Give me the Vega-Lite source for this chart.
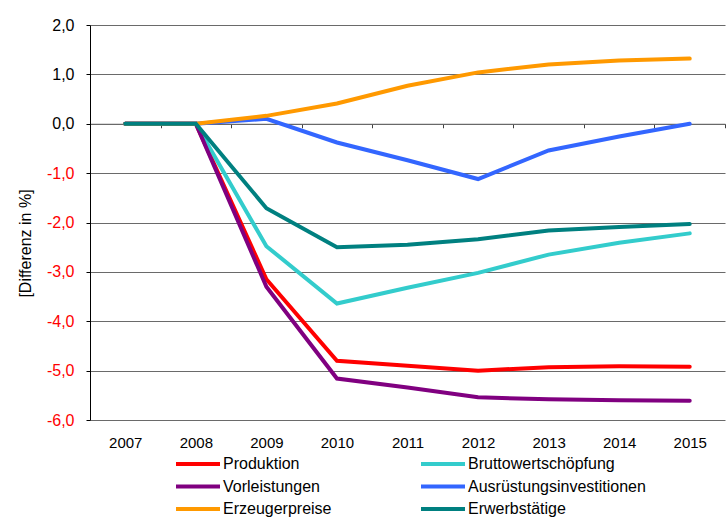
{
  "$schema": "https://vega.github.io/schema/vega-lite/v6.json",
  "width": 635,
  "height": 395,
  "autosize": {"type": "none"},
  "padding": {"left": 90, "top": 25, "right": 3, "bottom": 99},
  "background": "white",
  "config": {"font": "Liberation Sans", "view": {"stroke": null}},
  "data": {
    "values": [
      {"Jahr": "2007", "Reihe": "Produktion", "Wert": 0},
      {"Jahr": "2008", "Reihe": "Produktion", "Wert": 0},
      {"Jahr": "2009", "Reihe": "Produktion", "Wert": -3.15},
      {"Jahr": "2010", "Reihe": "Produktion", "Wert": -4.8},
      {"Jahr": "2011", "Reihe": "Produktion", "Wert": -4.9},
      {"Jahr": "2012", "Reihe": "Produktion", "Wert": -5.0},
      {"Jahr": "2013", "Reihe": "Produktion", "Wert": -4.93},
      {"Jahr": "2014", "Reihe": "Produktion", "Wert": -4.91},
      {"Jahr": "2015", "Reihe": "Produktion", "Wert": -4.92},
      {"Jahr": "2007", "Reihe": "Bruttowertschöpfung", "Wert": 0},
      {"Jahr": "2008", "Reihe": "Bruttowertschöpfung", "Wert": 0},
      {"Jahr": "2009", "Reihe": "Bruttowertschöpfung", "Wert": -2.48},
      {"Jahr": "2010", "Reihe": "Bruttowertschöpfung", "Wert": -3.64},
      {"Jahr": "2011", "Reihe": "Bruttowertschöpfung", "Wert": -3.32},
      {"Jahr": "2012", "Reihe": "Bruttowertschöpfung", "Wert": -3.02},
      {"Jahr": "2013", "Reihe": "Bruttowertschöpfung", "Wert": -2.65},
      {"Jahr": "2014", "Reihe": "Bruttowertschöpfung", "Wert": -2.41},
      {"Jahr": "2015", "Reihe": "Bruttowertschöpfung", "Wert": -2.22},
      {"Jahr": "2007", "Reihe": "Vorleistungen", "Wert": 0},
      {"Jahr": "2008", "Reihe": "Vorleistungen", "Wert": 0},
      {"Jahr": "2009", "Reihe": "Vorleistungen", "Wert": -3.3},
      {"Jahr": "2010", "Reihe": "Vorleistungen", "Wert": -5.16},
      {"Jahr": "2011", "Reihe": "Vorleistungen", "Wert": -5.34},
      {"Jahr": "2012", "Reihe": "Vorleistungen", "Wert": -5.54},
      {"Jahr": "2013", "Reihe": "Vorleistungen", "Wert": -5.58},
      {"Jahr": "2014", "Reihe": "Vorleistungen", "Wert": -5.6},
      {"Jahr": "2015", "Reihe": "Vorleistungen", "Wert": -5.61},
      {"Jahr": "2007", "Reihe": "Ausrüstungsinvestitionen", "Wert": 0},
      {"Jahr": "2008", "Reihe": "Ausrüstungsinvestitionen", "Wert": 0},
      {"Jahr": "2009", "Reihe": "Ausrüstungsinvestitionen", "Wert": 0.1},
      {"Jahr": "2010", "Reihe": "Ausrüstungsinvestitionen", "Wert": -0.38},
      {"Jahr": "2011", "Reihe": "Ausrüstungsinvestitionen", "Wert": -0.74},
      {"Jahr": "2012", "Reihe": "Ausrüstungsinvestitionen", "Wert": -1.12},
      {"Jahr": "2013", "Reihe": "Ausrüstungsinvestitionen", "Wert": -0.54},
      {"Jahr": "2014", "Reihe": "Ausrüstungsinvestitionen", "Wert": -0.26},
      {"Jahr": "2015", "Reihe": "Ausrüstungsinvestitionen", "Wert": 0},
      {"Jahr": "2007", "Reihe": "Erzeugerpreise", "Wert": 0},
      {"Jahr": "2008", "Reihe": "Erzeugerpreise", "Wert": 0},
      {"Jahr": "2009", "Reihe": "Erzeugerpreise", "Wert": 0.16},
      {"Jahr": "2010", "Reihe": "Erzeugerpreise", "Wert": 0.41},
      {"Jahr": "2011", "Reihe": "Erzeugerpreise", "Wert": 0.77},
      {"Jahr": "2012", "Reihe": "Erzeugerpreise", "Wert": 1.04},
      {"Jahr": "2013", "Reihe": "Erzeugerpreise", "Wert": 1.2},
      {"Jahr": "2014", "Reihe": "Erzeugerpreise", "Wert": 1.28},
      {"Jahr": "2015", "Reihe": "Erzeugerpreise", "Wert": 1.32},
      {"Jahr": "2007", "Reihe": "Erwerbstätige", "Wert": 0},
      {"Jahr": "2008", "Reihe": "Erwerbstätige", "Wert": 0},
      {"Jahr": "2009", "Reihe": "Erwerbstätige", "Wert": -1.71},
      {"Jahr": "2010", "Reihe": "Erwerbstätige", "Wert": -2.5},
      {"Jahr": "2011", "Reihe": "Erwerbstätige", "Wert": -2.45},
      {"Jahr": "2012", "Reihe": "Erwerbstätige", "Wert": -2.34},
      {"Jahr": "2013", "Reihe": "Erwerbstätige", "Wert": -2.16},
      {"Jahr": "2014", "Reihe": "Erwerbstätige", "Wert": -2.09},
      {"Jahr": "2015", "Reihe": "Erwerbstätige", "Wert": -2.03}
    ]
  },
  "mark": {"type": "line", "strokeWidth": 4, "strokeCap": "round"},
  "encoding": {
    "x": {
      "field": "Jahr",
      "type": "ordinal",
      "scale": {"type": "band", "paddingInner": 0, "paddingOuter": 0},
      "axis": {
        "title": null,
        "offset": -296.25,
        "grid": false,
        "domainColor": "#6a6a6a",
        "tickColor": "#404040",
        "tickSize": 4,
        "tickBand": "extent",
        "labelAngle": 0,
        "labelPadding": 315,
        "labelBaseline": "middle",
        "labelFontSize": 15,
        "labelColor": "black"
      }
    },
    "y": {
      "field": "Wert",
      "type": "quantitative",
      "scale": {"domain": [-6, 2], "nice": false, "zero": false},
      "axis": {
        "title": "[Differenz in %]",
        "titleFontSize": 16,
        "titleFontWeight": "normal",
        "titleColor": "black",
        "titleAngle": -90,
        "titleX": -65,
        "titleY": 218,
        "titleAlign": "center",
        "titleBaseline": "middle",
        "values": [-6, -5, -4, -3, -2, -1, 0, 1, 2],
        "grid": true,
        "gridColor": "#6a6a6a",
        "gridOpacity": 1,
        "domainColor": "black",
        "tickColor": "black",
        "tickSize": 4,
        "labelPadding": 12,
        "labelFontSize": 16,
        "labelExpr": "replace(replace(format(datum.value, '.1f'), '.', ','), '−', '-')",
        "labelColor": {"condition": {"test": "datum.value < 0", "value": "#ff0000"}, "value": "black"}
      }
    },
    "color": {
      "field": "Reihe",
      "type": "nominal",
      "scale": {
        "domain": ["Produktion", "Bruttowertschöpfung", "Vorleistungen", "Ausrüstungsinvestitionen", "Erzeugerpreise", "Erwerbstätige"],
        "range": ["#ff0000", "#33cccc", "#800080", "#3366ff", "#ff9900", "#008080"]
      },
      "legend": {
        "title": null,
        "orient": "none",
        "direction": "horizontal",
        "legendX": 100,
        "legendY": 431,
        "columns": 2,
        "columnPadding": 81,
        "rowPadding": 6.5,
        "symbolType": "M-4,0H4",
        "symbolSize": 121,
        "symbolStrokeWidth": 4,
        "symbolFillColor": "transparent",
        "labelFontSize": 16,
        "labelColor": "black",
        "labelOffset": 17,
        "labelLimit": 300
      }
    }
  }
}
